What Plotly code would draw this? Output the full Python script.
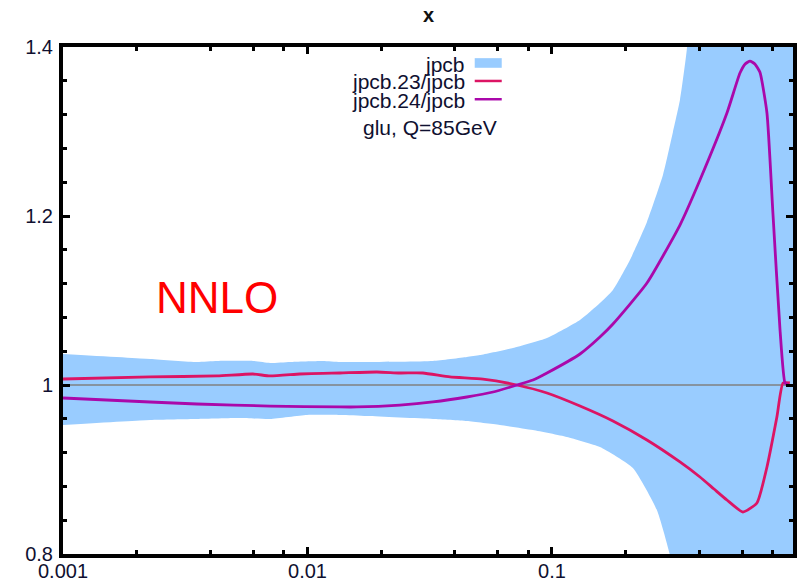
import plotly.graph_objects as go

# PDF uncertainty band for jpcb (gluon, Q = 85 GeV), ratios to jpcb
band_up_x = [0.001, 0.00227, 0.00353, 0.00427, 0.00598, 0.00703, 0.00848, 0.01156,
             0.01358, 0.0175, 0.03258, 0.04487, 0.05075, 0.06926, 0.09541, 0.1302,
             0.1571, 0.1776, 0.2084, 0.2446, 0.2844, 0.3125, 0.3338, 0.3566,
             0.38, 0.45, 0.968]
band_up_y = [1.0367, 1.0308, 1.0272, 1.0284, 1.0284, 1.0260, 1.0272, 1.0284,
             1.0272, 1.0272, 1.0284, 1.0331, 1.0355, 1.0438, 1.0556, 1.0769,
             1.0970, 1.1124, 1.1479, 1.1929, 1.2485, 1.2994, 1.3373, 1.3988,
             1.55, 1.9, 3.5]

band_lo_x = [0.001, 0.00227, 0.00353, 0.0053, 0.00703, 0.00995, 0.01358, 0.0175,
             0.03258, 0.04487, 0.06124, 0.08361, 0.1151, 0.1571, 0.2143, 0.2686,
             0.3038, 0.35, 0.968]
band_lo_y = [0.9527, 0.9586, 0.9598, 0.9609, 0.9598, 0.9645, 0.9645, 0.9633,
             0.9598, 0.9574, 0.9527, 0.9467, 0.9385, 0.9266, 0.9018, 0.8521,
             0.7988, 0.70, 0.0]

# jpcb.23 / jpcb
r23_x = [0.001, 0.00227, 0.00427, 0.00598, 0.00703, 0.00931, 0.01156, 0.01358,
         0.01923, 0.02388, 0.02965, 0.03826, 0.05221, 0.0719, 0.09541, 0.1302,
         0.1776, 0.2446, 0.3338, 0.403, 0.46, 0.5196, 0.6041, 0.6891, 0.7575,
         0.8318, 0.8813, 0.9397]
r23_y = [1.0071, 1.0095, 1.0107, 1.0130, 1.0107, 1.0130, 1.0138, 1.0142,
         1.0154, 1.0142, 1.0142, 1.0095, 1.0070, 1.0, 0.9905, 0.9751,
         0.9574, 0.9349, 0.9089, 0.8911, 0.8769, 0.8639, 0.8497, 0.8604, 0.9030,
         0.9621, 1.0024, 1.0024]

# jpcb.24 / jpcb
r24_x = [0.001, 0.00227, 0.00353, 0.00703, 0.01358, 0.01593, 0.02388, 0.03258,
         0.04487, 0.05741, 0.0719, 0.08361, 0.09541, 0.1302, 0.1571, 0.1776,
         0.2446, 0.3338, 0.403, 0.5196, 0.5875, 0.617, 0.6455, 0.676, 0.7091,
         0.7575, 0.8012, 0.8567, 0.8977, 0.9231]
r24_y = [0.9846, 0.9799, 0.9775, 0.9751, 0.9740, 0.9740, 0.9763, 0.9799,
         0.9858, 0.9917, 1.0, 1.0059, 1.0142, 1.0367, 1.0568, 1.0722,
         1.1207, 1.1893, 1.2426, 1.3219, 1.3692, 1.3800, 1.3834, 1.3800, 1.3700,
         1.3219, 1.2036, 1.0651, 1.0024, 1.0]

x_range = [0.001, 0.968]
x_tick_vals = [0.001, 0.01, 0.1]
x_tick_text = ["0.001", "0.01", "0.1"]
x_minor_vals = [m * d for d in (0.001, 0.01, 0.1) for m in (2, 4, 6, 8)]
y_tick_vals = [0.8, 1.0, 1.2, 1.4]
y_tick_text = ["0.8", "1", "1.2", "1.4"]

BAND = "rgb(153,204,255)"
RED = "#dc1464"
MAG = "#aa08aa"
FONT = "Liberation Sans, Arial, sans-serif"
TICK_COLOR = "#0f1030"

fig = go.Figure()

fig.add_trace(go.Scatter(
    x=band_up_x + band_lo_x[::-1], y=band_up_y + band_lo_y[::-1],
    fill="toself", fillcolor=BAND, mode="lines",
    line=dict(width=0, shape="spline", smoothing=0.5),
    hoverinfo="skip", showlegend=False))

fig.add_trace(go.Scatter(x=x_range, y=[1, 1], mode="lines",
                         line=dict(color="#808080", width=1.5), showlegend=False))

fig.add_trace(go.Scatter(x=r23_x, y=r23_y, mode="lines",
                         line=dict(color=RED, width=2.8, shape="spline", smoothing=0.5),
                         showlegend=False))
fig.add_trace(go.Scatter(x=r24_x, y=r24_y, mode="lines",
                         line=dict(color=MAG, width=2.8, shape="spline", smoothing=0.5),
                         showlegend=False))

# legend block (text right-aligned, key to the right)
leg_font = dict(family=FONT, size=21, color=TICK_COLOR)
legend_rows = [("jpcb", 0.966), ("jpcb.23/jpcb", 0.931), ("jpcb.24/jpcb", 0.895)]
annotations = []
for label, ypos in legend_rows:
    annotations.append(dict(text=label, x=0.553, y=ypos, xref="paper", yref="paper",
                            xanchor="right", yanchor="middle", showarrow=False, font=leg_font))
annotations.append(dict(text="glu, Q=85GeV", x=0.503, y=0.842, xref="paper", yref="paper",
                        xanchor="center", yanchor="middle", showarrow=False, font=leg_font))
annotations.append(dict(text="NNLO", x=0.211, y=0.505, xref="paper", yref="paper",
                        xanchor="center", yanchor="middle", showarrow=False,
                        font=dict(family=FONT, size=44, color="#ff0000")))
annotations.append(dict(text="<b>x</b>", x=0.5, y=1.063, xref="paper", yref="paper",
                        xanchor="center", yanchor="middle", showarrow=False,
                        font=dict(family=FONT, size=20, color="#111111")))

shapes = [
    dict(type="rect", xref="paper", yref="paper", x0=0.564, x1=0.601, y0=0.959, y1=0.978,
         fillcolor=BAND, line=dict(width=0)),
    dict(type="line", xref="paper", yref="paper", x0=0.564, x1=0.601, y0=0.933, y1=0.933,
         line=dict(color=RED, width=2.5)),
    dict(type="line", xref="paper", yref="paper", x0=0.564, x1=0.601, y0=0.897, y1=0.897,
         line=dict(color=MAG, width=2.5)),
]

axis_common = dict(showline=True, linecolor="black", linewidth=4, mirror="allticks",
                   ticks="inside", ticklen=7, tickwidth=3, tickcolor="black",
                   showgrid=False, zeroline=False, automargin=False,
                   tickfont=dict(family=FONT, size=20, color=TICK_COLOR))

fig.update_xaxes(type="log", range=[-3, -0.0141], tickmode="array",
                 tickvals=x_tick_vals, ticktext=x_tick_text, ticklabelstandoff=-4,
                 minor=dict(tickmode="array", tickvals=x_minor_vals, ticks="inside",
                            ticklen=4, tickwidth=3, tickcolor="black", showgrid=False),
                 **axis_common)
fig.update_yaxes(range=[0.8, 1.4], tickmode="array",
                 tickvals=y_tick_vals, ticktext=y_tick_text, ticklabelstandoff=2,
                 minor=dict(dtick=0.04, tick0=0.8, ticks="inside",
                            ticklen=4, tickwidth=3, tickcolor="black", showgrid=False),
                 **axis_common)

fig.update_layout(width=802, height=584, margin=dict(l=63, r=9, t=47, b=30),
                  paper_bgcolor="white", plot_bgcolor="white",
                  annotations=annotations, shapes=shapes, showlegend=False)

fig.write_html("out.html")
